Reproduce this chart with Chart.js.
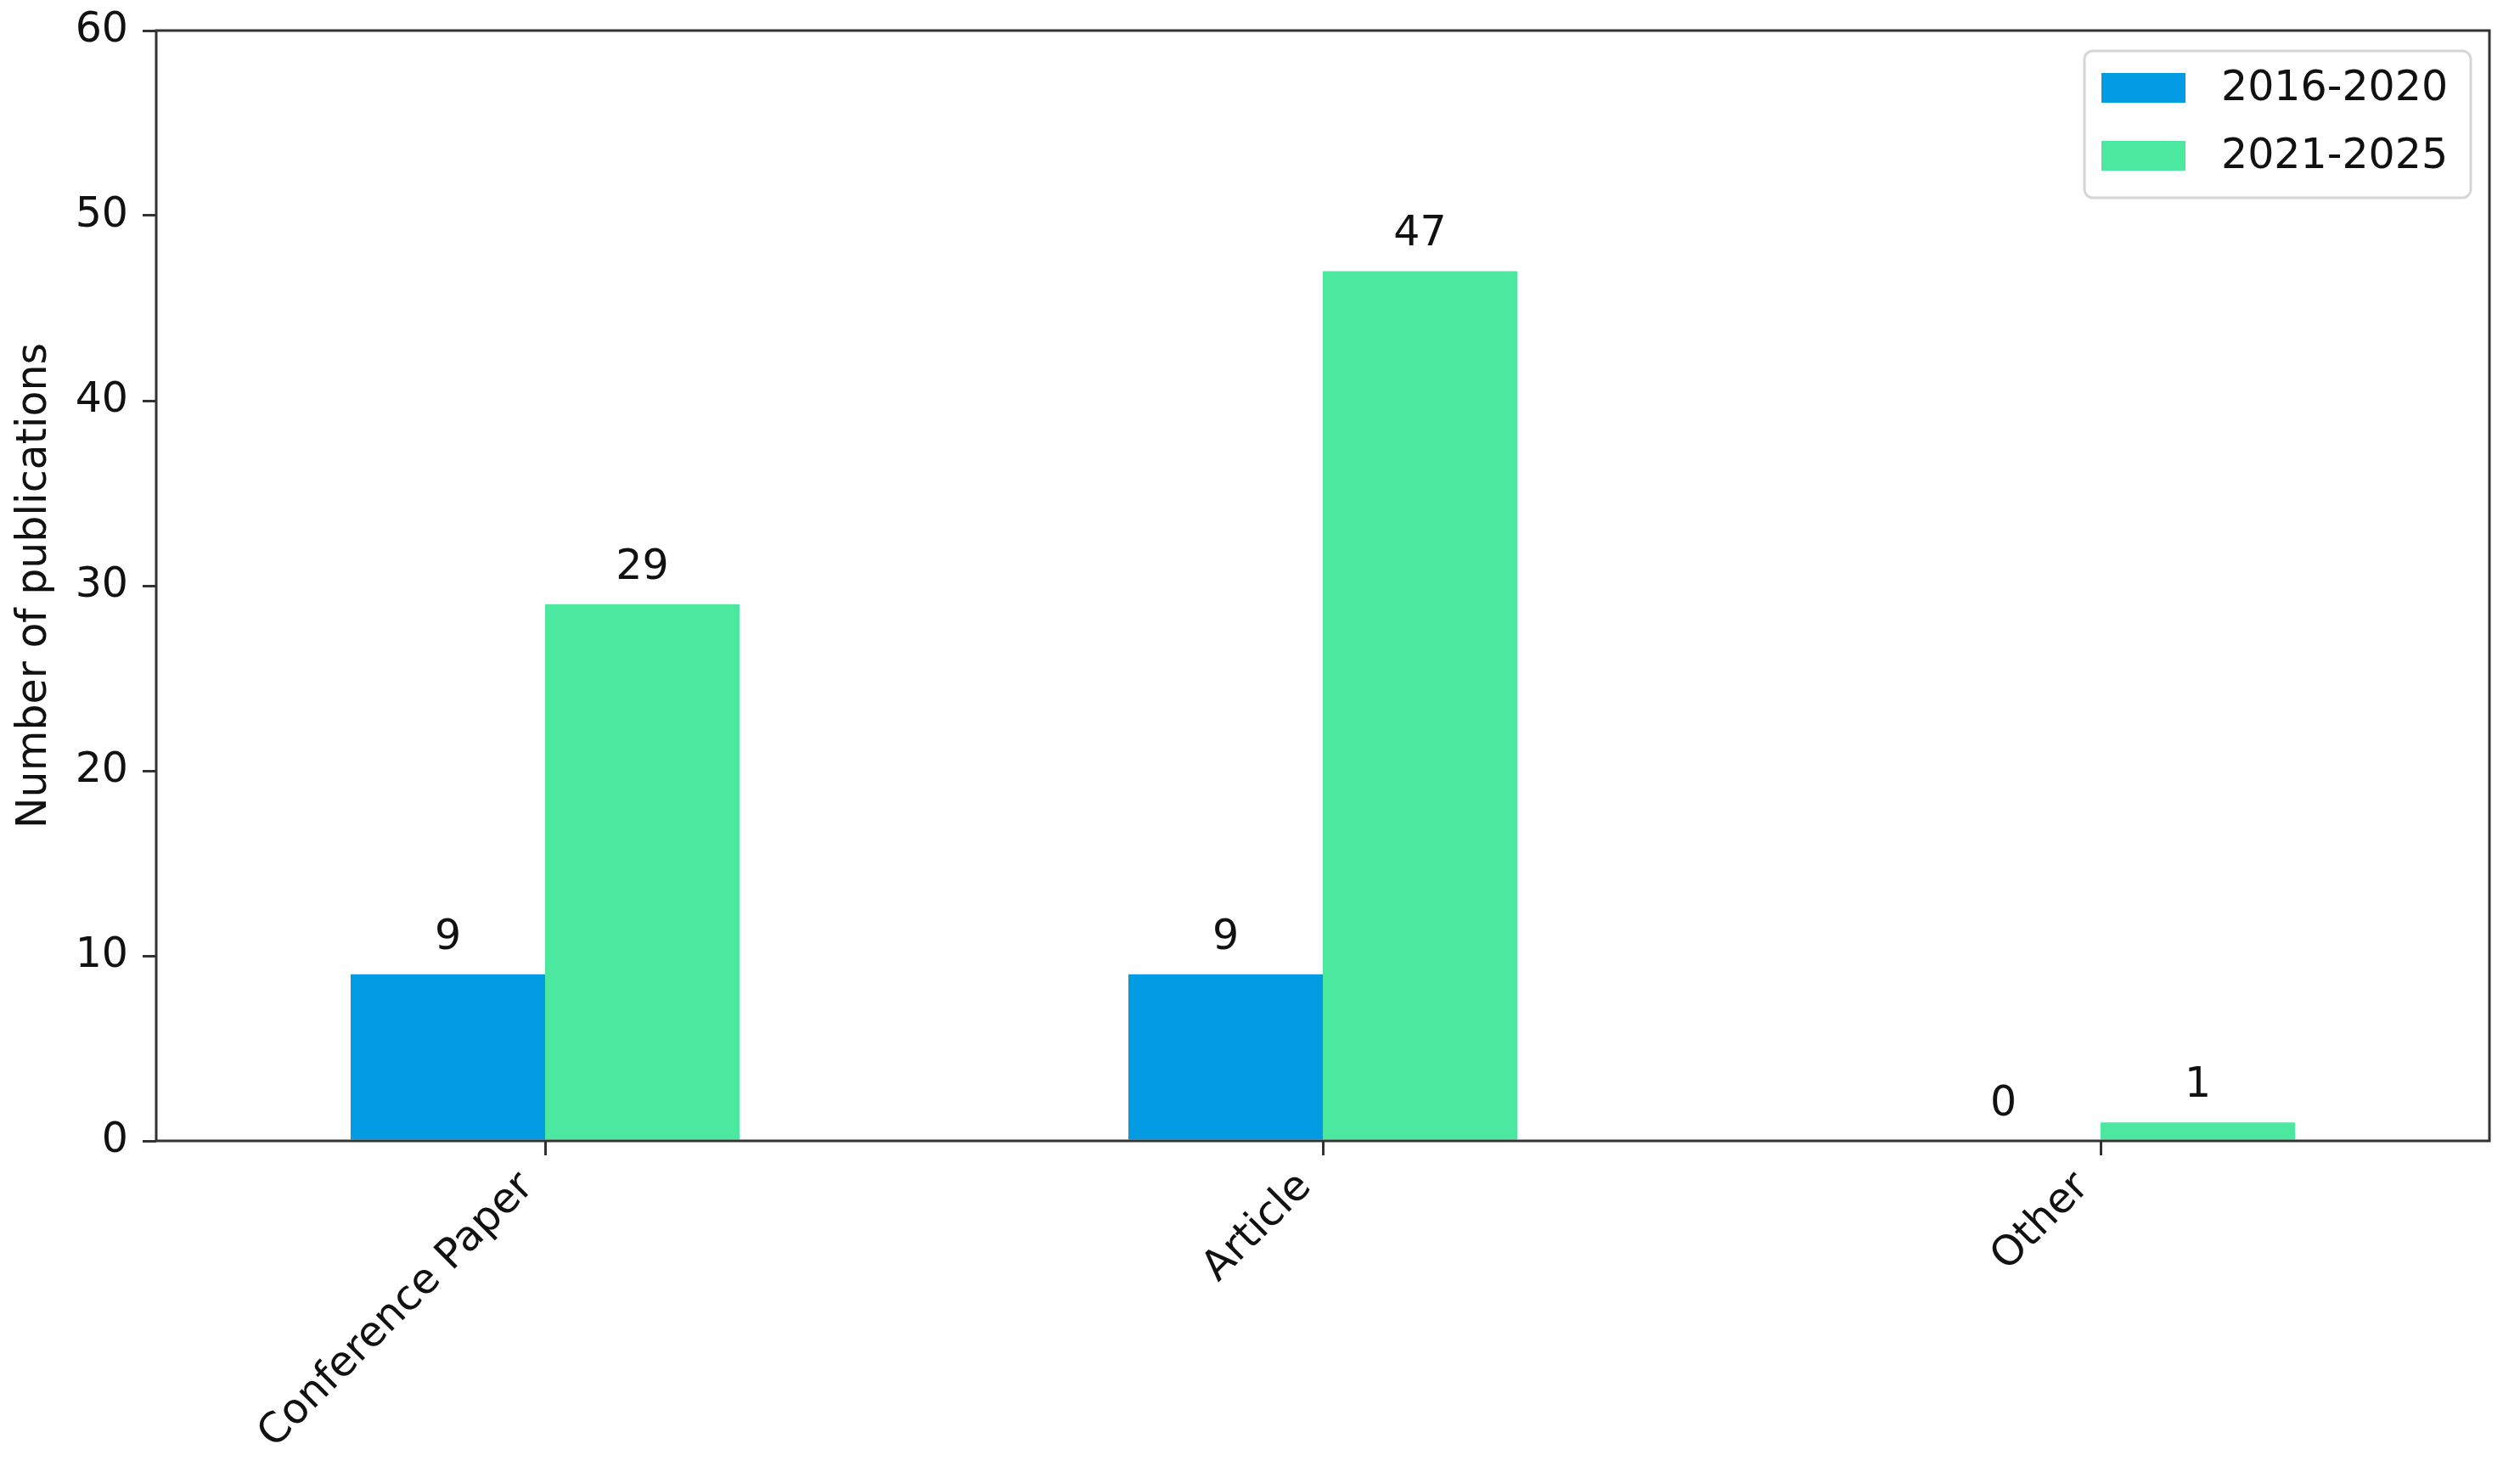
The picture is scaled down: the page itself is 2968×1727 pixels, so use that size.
<!DOCTYPE html>
<html><head><meta charset="utf-8">
<script src="https://cdn.jsdelivr.net/npm/chart.js@4.4.1/dist/chart.umd.min.js"></script>
<style>html,body{margin:0;padding:0;background:#fff;} canvas{display:block;}</style>
</head><body>
<canvas id="c" width="2968" height="1727"></canvas>
<script>
const categories = ['Conference Paper', 'Article', 'Other'];
const seriesLabels = ['2016-2020', '2021-2025'];
const values2016_2020 = [9, 9, 0];
const values2021_2025 = [29, 47, 1];
const yTickValues = [0, 10, 20, 30, 40, 50, 60];
const yAxisTitle = 'Number of publications';

const BLUE = '#029BE4';
const GREEN = '#4CE8A0';
const FONT = "'DejaVu Sans', sans-serif";
const FS = 49;

const framePlugin = {
  id: 'frame',
  afterDraw(chart) {
    const {ctx, chartArea: a} = chart;
    ctx.save();
    ctx.strokeStyle = '#333';
    ctx.lineWidth = 3;
    ctx.strokeRect(a.left, a.top, a.right - a.left, a.bottom - a.top);
    ctx.restore();
  }
};

const barLabelPlugin = {
  id: 'barLabels',
  afterDatasetsDraw(chart) {
    const {ctx} = chart;
    ctx.save();
    ctx.font = FS + 'px ' + FONT;
    ctx.fillStyle = '#111';
    ctx.textAlign = 'center';
    ctx.textBaseline = 'alphabetic';
    chart.data.datasets.forEach((ds, i) => {
      const meta = chart.getDatasetMeta(i);
      meta.data.forEach((el, j) => {
        ctx.fillText(String(ds.data[j]), el.x, el.y - 30);
      });
    });
    ctx.restore();
  }
};

const legendPlugin = {
  id: 'customLegend',
  afterDraw(chart) {
    const {ctx, chartArea: a} = chart;
    const right = a.right - 22, top = a.top + 24;
    const w = 455, h = 173;
    const left = right - w;
    ctx.save();
    ctx.beginPath();
    ctx.roundRect(left, top, w, h, 10);
    ctx.fillStyle = 'rgba(255,255,255,0.85)';
    ctx.fill();
    ctx.strokeStyle = '#d6d6d6';
    ctx.lineWidth = 3;
    ctx.stroke();
    ctx.font = FS + 'px ' + FONT;
    ctx.textBaseline = 'middle';
    ctx.textAlign = 'left';
    chart.data.datasets.forEach((ds, i) => {
      const cy = top + 43 + i * 80;
      ctx.fillStyle = ds.backgroundColor;
      ctx.fillRect(left + 20, cy - 17, 99, 35);
      ctx.fillStyle = '#111';
      ctx.fillText(ds.label, left + 161, cy + 2);
    });
    ctx.restore();
  }
};

new Chart(document.getElementById('c'), {
  type: 'bar',
  data: {
    labels: categories,
    datasets: [
      {label: seriesLabels[0], data: values2016_2020, backgroundColor: BLUE, categoryPercentage: 0.5, barPercentage: 1.0},
      {label: seriesLabels[1], data: values2021_2025, backgroundColor: GREEN, categoryPercentage: 0.5, barPercentage: 1.0}
    ]
  },
  options: {
    responsive: false,
    animation: false,
    devicePixelRatio: 1,
    layout: {padding: {top: 36, right: 36, left: 0, bottom: 0}},
    plugins: {legend: {display: false}, tooltip: {enabled: false}},
    scales: {
      x: {
        offset: true,
        border: {display: false},
        grid: {display: true, drawOnChartArea: false, drawTicks: true, tickLength: 17, color: '#333', lineWidth: 3, offset: false},
        ticks: {font: {family: FONT, size: FS}, color: '#111', minRotation: 45, maxRotation: 45, autoSkip: false, padding: 9, labelOffset: -21},
        afterFit(scale) { scale.height = 383; scale.paddingLeft = 0; scale.paddingRight = 0; }
      },
      y: {
        min: 0, max: 60,
        border: {display: false},
        grid: {display: true, drawOnChartArea: false, drawTicks: true, tickLength: 16, color: '#333', lineWidth: 3},
        ticks: {font: {family: FONT, size: FS}, color: '#111', padding: 17},
        afterBuildTicks(scale) { scale.ticks = yTickValues.map(v => ({value: v})); },
        title: {display: true, text: yAxisTitle, font: {family: FONT, size: FS}, color: '#111', padding: {top: 12, bottom: 0}},
        afterFit(scale) { scale.width = 184; scale.paddingTop = 0; scale.paddingBottom = 0; }
      }
    }
  },
  plugins: [framePlugin, barLabelPlugin, legendPlugin]
});
</script>
</body></html>
